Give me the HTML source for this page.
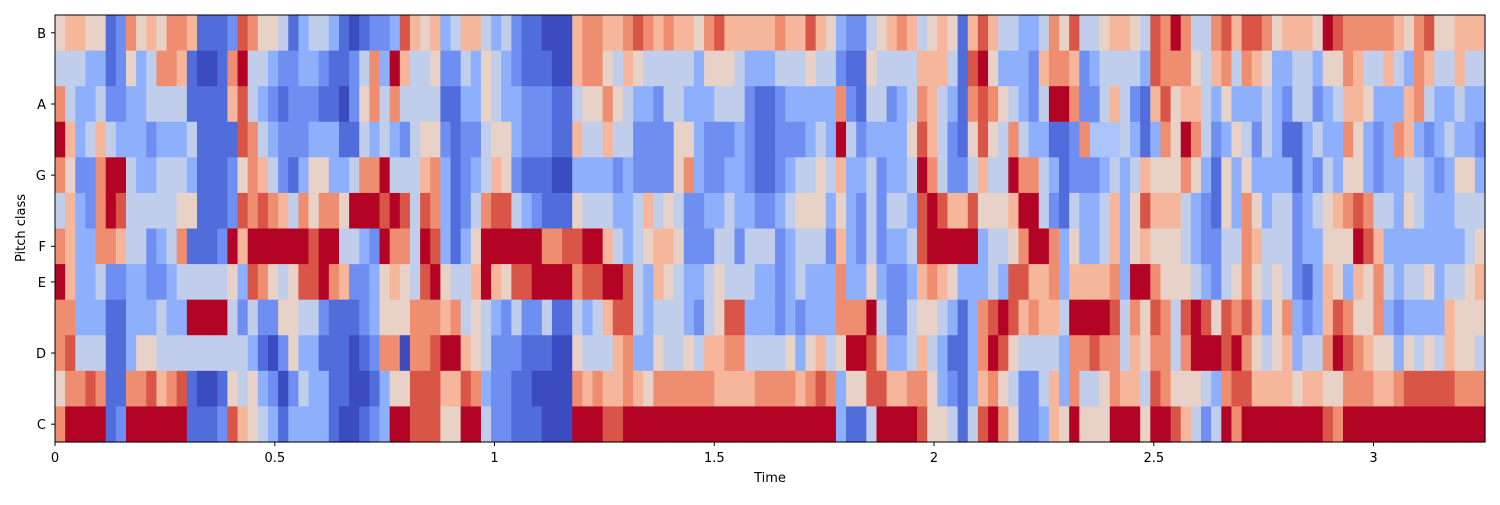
<!DOCTYPE html>
<html><head><meta charset="utf-8"><style>
html,body{margin:0;padding:0;background:#fff;}
svg text{font-family:"DejaVu Sans","Liberation Sans",sans-serif;font-size:13px;fill:#000;}
</style></head><body>
<svg id="s" width="1500" height="500" xmlns="http://www.w3.org/2000/svg">
<rect x="0" y="0" width="1500" height="500" fill="#fff"/>
<g id="cells"></g>
<rect x="55" y="15" width="1430" height="427" fill="none" stroke="#000" stroke-width="1"/>
<g stroke="#000" stroke-width="1">
<line x1="55" y1="442" x2="55" y2="446"/><line x1="274.8" y1="442" x2="274.8" y2="446"/>
<line x1="494.5" y1="442" x2="494.5" y2="446"/><line x1="714.3" y1="442" x2="714.3" y2="446"/>
<line x1="934" y1="442" x2="934" y2="446"/><line x1="1153.8" y1="442" x2="1153.8" y2="446"/>
<line x1="1373.5" y1="442" x2="1373.5" y2="446"/>
<line x1="51" y1="424.2" x2="55" y2="424.2"/><line x1="51" y1="353" x2="55" y2="353"/>
<line x1="51" y1="281.9" x2="55" y2="281.9"/><line x1="51" y1="246.3" x2="55" y2="246.3"/>
<line x1="51" y1="175.1" x2="55" y2="175.1"/><line x1="51" y1="104" x2="55" y2="104"/>
<line x1="51" y1="32.8" x2="55" y2="32.8"/>
</g>
<g text-anchor="middle">
<text x="55" y="462">0</text><text x="274.8" y="462">0.5</text><text x="494.5" y="462">1</text>
<text x="714.3" y="462">1.5</text><text x="934" y="462">2</text><text x="1153.8" y="462">2.5</text>
<text x="1373.5" y="462">3</text>
<text x="770" y="482">Time</text>
</g>
<g text-anchor="end">
<text x="46" y="429">C</text><text x="46" y="358">D</text><text x="46" y="287">E</text>
<text x="46" y="251">F</text><text x="46" y="180">G</text><text x="46" y="109">A</text>
<text x="46" y="38">B</text>
</g>
<text x="25" y="228" text-anchor="middle" transform="rotate(-90 25 228)">Pitch class</text>
</svg>
<script>
var seg=[
[0,[
"56655127565776111287554134431012238 7",
"44433125347761001794432233211247396",
"74334223344441111684321222110257474",
"96346433323334111187432223331143432",
"75227994334443111257642135533477944",
"46327984444455111287876475775999898",
"76337764423471112969999998994432977",
"96334223322344444538754588976223565",
"77333113334339999424225544211123555",
"78444113554444444443102533111012770",
"57787117786781001545320243311001355",
"79999129999991112865431333310012399"]],
[35,[
"65634664342110006776678767665786666",
"44522435432111006775465444443555433",
"44411335433222114557543324433344421",
"45521224553222116446442222553222321",
"46731234652111003333232222573223321",
"48731247884321115444334645422334332",
"49831359999997788996434566522244244",
"48954469658899997889984365433454443",
"77767454324224114346884344432458833",
"77899654222111005444673354454667744",
"88866873221100007676676577777766667",
"88855994221110009998899999999999999"]],
[70,[
"67668653224567645651686443347584456",
"34445442115444466641895333267762344",
"12333337214423476431787543249972246",
"12223439423333586421585474331127",
"12344546334233497422464497743122234",
"23455535324244389866855569942143346",
"42344426324233489999934457997353346",
"32343337335322367653334388667366667",
"32323337779422455431378986766499998",
"44535645998633464311379854444377877",
"77767873558866775321367542246374457",
"99999993114999985541489752236595559"]],
[105,[
"654879744786887566659877777657855666",
"443877754674765334435576446437644644",
"421685664353334324423466533367433433",
"431375974235424311343375323763234332",
"346555753153533331324355323344323553",
"358666432153753442345678744354333444",
"356555432244764442335559863333333345",
"399755543245754542136536574344534456",
"475874898587863573236875573233336555",
"465774799989754563447987655354546554",
"664875554378866665665577766788888777",
"995998642497999999998799999999999999"]]
];
var A=[[0,[59,76,192]],[0.125,[84,112,222]],[0.25,[117,151,246]],[0.375,[155,188,255]],[0.5,[221,220,220]],[0.625,[245,196,172]],[0.75,[244,154,123]],[0.875,[221,95,75]],[1,[180,4,38]]];
function cm(v){for(var i=1;i<A.length;i++){if(v<=A[i][0]){var a=A[i-1],b=A[i],t=(v-a[0])/(b[0]-a[0]);return "rgb("+[0,1,2].map(function(k){return Math.round(a[1][k]+(b[1][k]-a[1][k])*t)}).join(",")+")";}}return "rgb(180,4,38)";}
var N=141,cw=1430/N,rh=427/12,g=document.getElementById("cells"),h="<rect x='55' y='15' width='1430' height='427' fill='rgb(170,195,250)'/>";
seg.forEach(function(s){var st=s[0];s[1].forEach(function(row,r){for(var i=0;i<row.length;i++){var c=st+i;if(c>=N)break;var ch=row[i];if(ch<'0'||ch>'9')ch=row[i-1]||'5';var x=55+c*cw,y=15+r*rh;h+="<rect x='"+x.toFixed(2)+"' y='"+y.toFixed(2)+"' width='"+(cw+0.6).toFixed(2)+"' height='"+(rh+0.6).toFixed(2)+"' fill='"+cm(+ch/9)+"'/>";}});});
g.innerHTML=h;
</script>
</body></html>
